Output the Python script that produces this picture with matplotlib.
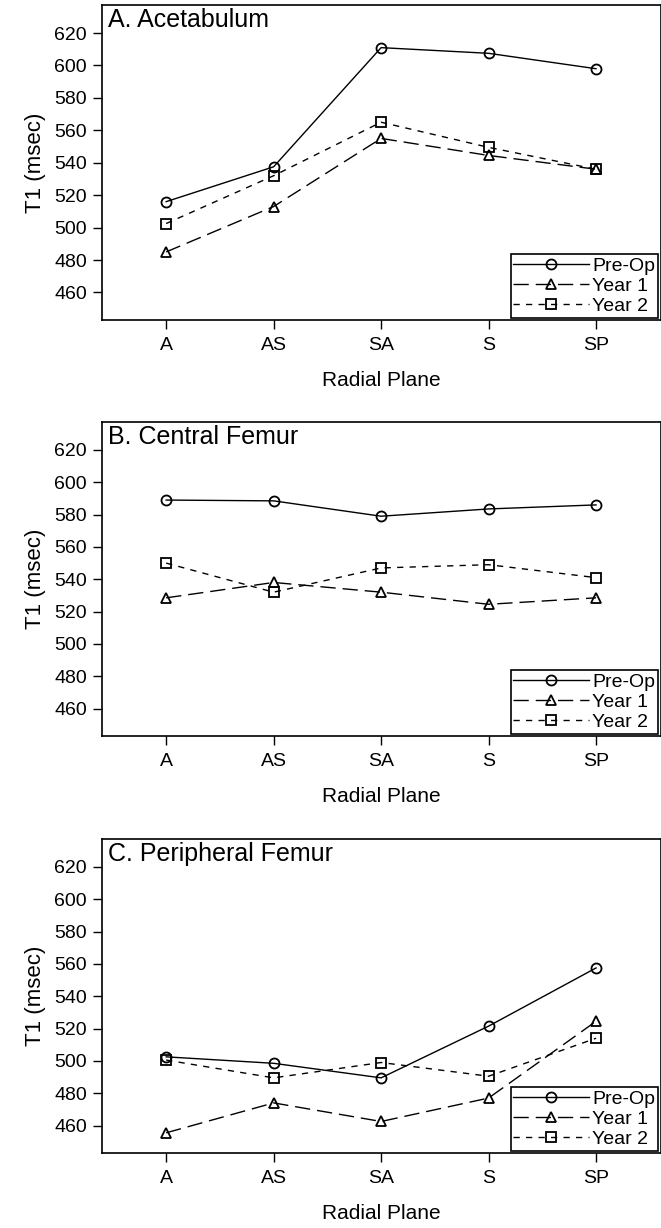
import matplotlib
matplotlib.use("Agg")
import matplotlib.pyplot as plt

plt.rcParams['font.family'] = ['Liberation Sans', 'DejaVu Sans']

planes = ["A", "AS", "SA", "S", "SP"]
series_names = ["Pre-Op", "Year 1", "Year 2"]
yticks = [460, 480, 500, 520, 540, 560, 580, 600, 620]

acet_preop = [516, 537.5, 611, 607.5, 598]
acet_year1 = [485, 513, 555, 544.5, 536]
acet_year2 = [502.5, 532, 565, 549.5, 536]

cent_preop = [589, 588.5, 579, 583.5, 586]
cent_year1 = [528.5, 538, 532, 524.5, 528.5]
cent_year2 = [550, 532, 547, 549, 541]

peri_preop = [502.5, 498.5, 489.5, 521.5, 557.5]
peri_year1 = [455.5, 474, 462.5, 477, 524.5]
peri_year2 = [500.5, 489.5, 499, 490.5, 514]

panels = [
    ("A. Acetabulum", [acet_preop, acet_year1, acet_year2]),
    ("B. Central Femur", [cent_preop, cent_year1, cent_year2]),
    ("C. Peripheral Femur", [peri_preop, peri_year1, peri_year2]),
]

styles = [
    dict(marker='o', linestyle='-', markersize=7.2),
    dict(marker='^', dashes=(11, 5), markersize=7.5),
    dict(marker='s', dashes=(4.5, 4.5), markersize=6.8),
]

fig = plt.figure(figsize=(6.61, 12.28), dpi=100)
W, H = 661.0, 1228.0
left = 101.7 / W
width = (660.5 - 101.7) / W
tops = [5, 422, 839]
heights = [315, 314, 314]

for (title, data), top, h in zip(panels, tops, heights):
    ax = fig.add_axes([left, 1 - (top + h) / H, width, h / H])
    xs = list(range(len(planes)))
    for name, vals, st in zip(series_names, data, styles):
        ax.plot(xs, vals, color='black', lw=1.0,
                markerfacecolor='none', markeredgecolor='black',
                markeredgewidth=1.3, label=name, **st)
    ax.set_xlim(-0.6, 4.6)
    ax.set_ylim(443, 637.3)
    ax.set_xticks(xs)
    ax.set_xticklabels(planes)
    ax.set_yticks(yticks)
    ax.tick_params(axis='both', direction='out', length=6.5, width=1.0,
                   labelsize=14, color='black')
    ax.tick_params(axis='x', pad=6)
    ax.tick_params(axis='y', pad=4)
    for sp in ax.spines.values():
        sp.set_linewidth(1.2)
    ax.set_ylabel("T1 (msec)", fontsize=16, labelpad=6)
    ax.set_xlabel("Radial Plane", fontsize=15, labelpad=12)
    ax.text(0.012, 0.99, title, transform=ax.transAxes, fontsize=18,
            ha='left', va='top')
    leg = ax.legend(loc='lower right', fontsize=14, handlelength=3.9,
                    handletextpad=0.15, labelspacing=0.12, borderpad=0.15,
                    borderaxespad=0.12, fancybox=False, framealpha=1,
                    edgecolor='black')
    leg.get_frame().set_linewidth(1.2)

fig.savefig("out.png", dpi=100)
